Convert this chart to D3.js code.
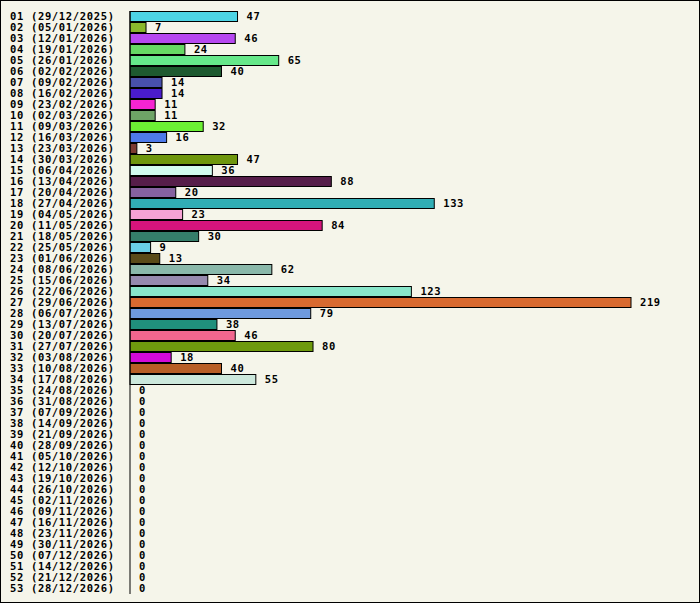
<!DOCTYPE html>
<html><head><meta charset="utf-8">
<script src="https://cdn.jsdelivr.net/npm/d3@7"></script>
<style>body{margin:0;background:#fff}</style>
</head><body>
<svg id="chart" width="700" height="603"></svg>
<script>
const weeks = ["01 (29/12/2025)","02 (05/01/2026)","03 (12/01/2026)","04 (19/01/2026)","05 (26/01/2026)","06 (02/02/2026)","07 (09/02/2026)","08 (16/02/2026)","09 (23/02/2026)","10 (02/03/2026)","11 (09/03/2026)","12 (16/03/2026)","13 (23/03/2026)","14 (30/03/2026)","15 (06/04/2026)","16 (13/04/2026)","17 (20/04/2026)","18 (27/04/2026)","19 (04/05/2026)","20 (11/05/2026)","21 (18/05/2026)","22 (25/05/2026)","23 (01/06/2026)","24 (08/06/2026)","25 (15/06/2026)","26 (22/06/2026)","27 (29/06/2026)","28 (06/07/2026)","29 (13/07/2026)","30 (20/07/2026)","31 (27/07/2026)","32 (03/08/2026)","33 (10/08/2026)","34 (17/08/2026)","35 (24/08/2026)","36 (31/08/2026)","37 (07/09/2026)","38 (14/09/2026)","39 (21/09/2026)","40 (28/09/2026)","41 (05/10/2026)","42 (12/10/2026)","43 (19/10/2026)","44 (26/10/2026)","45 (02/11/2026)","46 (09/11/2026)","47 (16/11/2026)","48 (23/11/2026)","49 (30/11/2026)","50 (07/12/2026)","51 (14/12/2026)","52 (21/12/2026)","53 (28/12/2026)"];
const counts = [47,7,46,24,65,40,14,14,11,11,32,16,3,47,36,88,20,133,23,84,30,9,13,62,34,123,219,79,38,46,80,18,40,55,0,0,0,0,0,0,0,0,0,0,0,0,0,0,0,0,0,0,0];
const colors = ["#4dd4e4","#8ab82c","#b648f0","#66d864","#66e88a","#1e5a30","#4850ac","#4a1ccc","#f624d2","#6ea466","#6cf034","#4e7aea","#7c3a30","#6e960e","#d2fcf0","#561e4a","#8662a0","#31aeb5","#f6a2d4","#d6147c","#357e6a","#6acee6","#5a4a18","#8ab8aa","#968aae","#88e5c9","#d86a30","#6e9ade","#20907c","#f2668e","#6e9a0e","#d40ad8","#b85e26","#cce8dc"];

const svg = d3.select("#chart");
svg.append("rect").attr("x",0.5).attr("y",0.5).attr("width",699).attr("height",602)
  .attr("fill","#f5f5ea").attr("stroke","#000");

const x = d3.scaleLinear().domain([0,219]).range([130,631]);
const y = d3.scaleBand().domain(weeks).range([11,594]).paddingInner(0);

const font = "'DejaVu Sans Mono', monospace";

const rows = svg.append("g").selectAll("g").data(weeks).join("g");

rows.append("text").attr("x",10).attr("y",d=>y(d)+y.bandwidth()/2).attr("dy","0.35em")
  .attr("font-family",font).attr("font-weight","bold").attr("font-size",10.5)
  .attr("textLength",104).attr("lengthAdjust","spacing").text(d=>d);

rows.filter((d,i)=>counts[i]>0).append("rect")
  .attr("x",x(0)).attr("y",d=>y(d)+0.5)
  .attr("width",d=>x(counts[weeks.indexOf(d)])-x(0)).attr("height",y.bandwidth()-1)
  .attr("fill",d=>colors[weeks.indexOf(d)]).attr("stroke","#000");

rows.append("text").attr("x",d=>x(counts[weeks.indexOf(d)])+9).attr("y",d=>y(d)+y.bandwidth()/2).attr("dy","0.35em")
  .attr("font-family",font).attr("font-weight","bold").attr("font-size",10.5).attr("letter-spacing",0.6)
  .text(d=>counts[weeks.indexOf(d)]);

svg.append("line").attr("x1",x(0)).attr("x2",x(0)).attr("y1",11).attr("y2",594).attr("stroke","#000");
</script>
</body></html>
